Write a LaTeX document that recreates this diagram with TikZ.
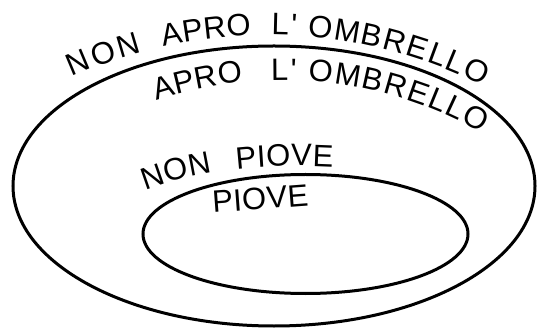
\documentclass[tikz,border=0pt]{standalone}
\usetikzlibrary{decorations.text}
\font\labfont="Liberation Sans" at 31pt
\tikzset{
  set/.style={line width=3pt},
  lab/.style={decorate, decoration={text along path, text={|\labfont|#1}, text align={fit to path}}}
}
\begin{document}
\begin{tikzpicture}[x=1pt,y=1pt]
\useasboundingbox (0,0) rectangle (537,329);
% sets
\draw[set] (274,143) ellipse [x radius=261, y radius=140];
\draw[set] (305.5,95) ellipse [x radius=162.5, y radius=59.5];
% line 1: NON APRO L' OMBRELLO (outside the big set)
\path[lab={NON}] (268,-186) ++(114.1:480) arc[start angle=114.1, end angle=105.2, radius=480];
\path[lab={APRO}] (268,-186) ++(102.6:480) arc[start angle=102.6, end angle=92.0, radius=480];
\path[lab={L'}] (268,-186) ++(89.6:480) arc[start angle=89.6, end angle=86.6, radius=480];
\path[lab={OMBRELLO}] (268,-186) ++(85.3:480) arc[start angle=85.3, end angle=63.4, radius=480];
% line 2: APRO L' OMBRELLO (inside the big set)
\path[lab={APRO}] (283,-151) ++(108.36:400) arc[start angle=108.36, end angle=95.74, radius=400];
\path[lab={L'}] (283,-151) ++(91.7:400) arc[start angle=91.7, end angle=88.1, radius=400];
\path[lab={OMBRELLO}] (283,-151) ++(86.42:400) arc[start angle=86.42, end angle=60.17, radius=400];
% line 3: NON PIOVE
\path[lab={NON}] (300,96) ++(140.6:200 and 67) arc[start angle=140.6, end angle=116.1, x radius=200, y radius=67];
\path[lab={PIOVE}] (300,96) ++(108.5:200 and 67) arc[start angle=108.5, end angle=80.5, x radius=200, y radius=67];
% line 4: PIOVE
\path[lab={PIOVE}] (213,116) -- (309,123.2);
\end{tikzpicture}
\end{document}
